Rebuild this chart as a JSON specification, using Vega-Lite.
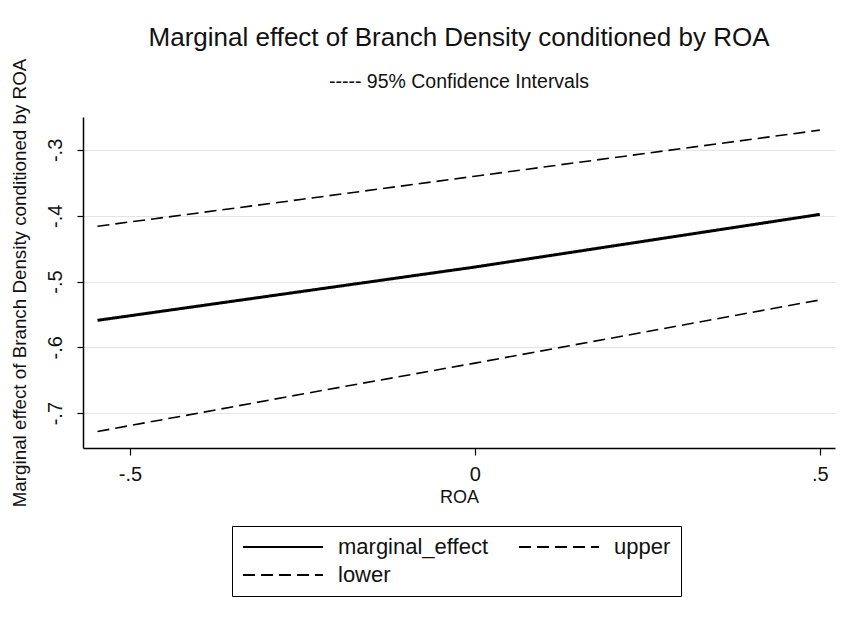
{
  "$schema": "https://vega.github.io/schema/vega-lite/v6.json",
  "autosize": "none",
  "width": 752,
  "height": 331,
  "padding": {"left": 83, "top": 117, "right": 10, "bottom": 175},
  "background": "white",
  "title": {
    "text": "Marginal effect of Branch Density conditioned by ROA",
    "subtitle": "----- 95% Confidence Intervals",
    "anchor": "middle",
    "frame": "group",
    "font": "Liberation Sans",
    "fontSize": 26,
    "fontWeight": "normal",
    "color": "#111111",
    "subtitleFont": "Liberation Sans",
    "subtitleFontSize": 19.5,
    "subtitleColor": "#111111",
    "subtitlePadding": 22,
    "offset": -33
  },
  "data": {
    "values": [
      {"ROA": -0.547, "value": -0.559, "series": "marginal_effect"},
      {"ROA": -0.25, "value": -0.515, "series": "marginal_effect"},
      {"ROA": 0.0, "value": -0.478, "series": "marginal_effect"},
      {"ROA": 0.25, "value": -0.438, "series": "marginal_effect"},
      {"ROA": 0.5, "value": -0.398, "series": "marginal_effect"},
      {"ROA": -0.547, "value": -0.416, "series": "upper"},
      {"ROA": -0.25, "value": -0.375, "series": "upper"},
      {"ROA": 0.0, "value": -0.340, "series": "upper"},
      {"ROA": 0.25, "value": -0.305, "series": "upper"},
      {"ROA": 0.5, "value": -0.270, "series": "upper"},
      {"ROA": -0.547, "value": -0.728, "series": "lower"},
      {"ROA": -0.25, "value": -0.671, "series": "lower"},
      {"ROA": 0.0, "value": -0.624, "series": "lower"},
      {"ROA": 0.25, "value": -0.576, "series": "lower"},
      {"ROA": 0.5, "value": -0.528, "series": "lower"}
    ]
  },
  "mark": {"type": "line", "color": "black", "clip": true},
  "encoding": {
    "x": {
      "field": "ROA",
      "type": "quantitative",
      "title": "ROA",
      "scale": {"domain": [-0.568, 0.522], "nice": false, "zero": false},
      "axis": {
        "values": [-0.5, 0, 0.5],
        "labelExpr": "datum.value == 0 ? '0' : (datum.value < 0 ? '-' : '') + replace(format(abs(datum.value), '.1f'), '0.', '.')",
        "grid": false,
        "domainColor": "black",
        "domainWidth": 1.5,
        "tickColor": "black",
        "tickSize": 7,
        "tickWidth": 1.2,
        "labelFont": "Liberation Sans",
        "labelFontSize": 20,
        "labelColor": "#111111",
        "labelPadding": 9,
        "titleFont": "Liberation Sans",
        "titleFontSize": 18,
        "titleFontWeight": "normal",
        "titleColor": "#111111",
        "titlePadding": 4
      }
    },
    "y": {
      "field": "value",
      "type": "quantitative",
      "title": "Marginal effect of Branch Density conditioned by ROA",
      "scale": {"domain": [-0.753, -0.25], "nice": false, "zero": false},
      "axis": {
        "values": [-0.7, -0.6, -0.5, -0.4, -0.3],
        "labelExpr": "datum.value == 0 ? '0' : (datum.value < 0 ? '-' : '') + replace(format(abs(datum.value), '.1f'), '0.', '.')",
        "grid": true,
        "gridColor": "#e4e4e4",
        "gridWidth": 1.2,
        "domainColor": "black",
        "domainWidth": 1.5,
        "tickColor": "black",
        "tickSize": 6,
        "tickWidth": 1.2,
        "labelAngle": -90,
        "labelAlign": "center",
        "labelBaseline": "bottom",
        "labelFont": "Liberation Sans",
        "labelFontSize": 20,
        "labelColor": "#111111",
        "labelPadding": 12,
        "titleFont": "Liberation Sans",
        "titleFontSize": 18.8,
        "titleFontWeight": "normal",
        "titleColor": "#111111",
        "titlePadding": 16
      }
    },
    "detail": {"field": "series"},
    "strokeDash": {
      "field": "series",
      "type": "nominal",
      "scale": {
        "domain": ["marginal_effect", "upper", "lower"],
        "range": [[1, 0], [12, 6], [12, 6]]
      },
      "legend": {
        "title": null,
        "orient": "none",
        "legendX": 149,
        "legendY": 409,
        "direction": "horizontal",
        "columns": 2,
        "columnPadding": 26,
        "rowPadding": 6,
        "padding": 10,
        "strokeColor": "black",
        "symbolType": "M-1,0H7",
        "symbolSize": 400,
        "symbolStrokeWidth": 1.8,
        "symbolStrokeColor": "black",
        "labelFont": "Liberation Sans",
        "labelFontSize": 22,
        "labelColor": "#111111",
        "labelOffset": 74,
        "labelLimit": 300
      }
    },
    "strokeWidth": {
      "condition": {"test": "datum.series == 'marginal_effect'", "value": 3},
      "value": 1.6
    }
  },
  "config": {
    "view": {"stroke": null},
    "axis": {"labelOverlap": false}
  }
}
